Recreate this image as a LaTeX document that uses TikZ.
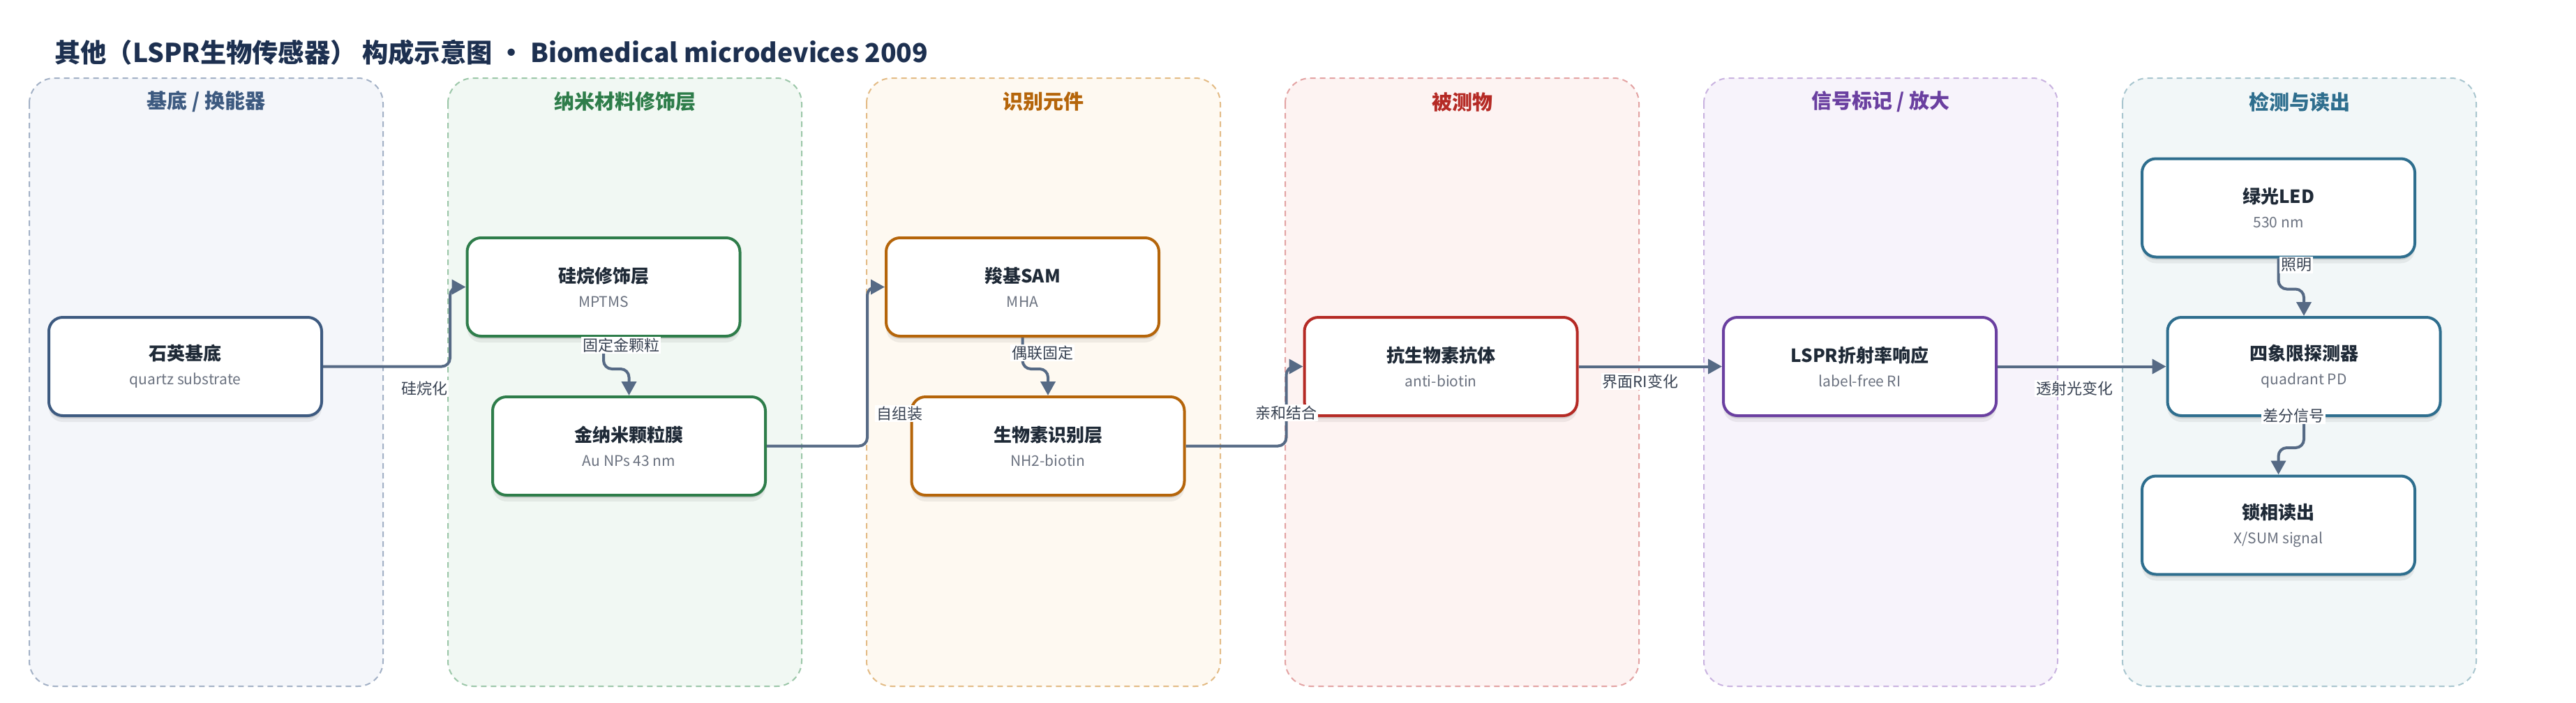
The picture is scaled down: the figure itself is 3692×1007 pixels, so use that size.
\documentclass[tikz,border=0pt]{standalone}
\usepackage{fontspec}
\setmainfont{Noto Sans CJK SC}
\usetikzlibrary{arrows.meta,shadows}
\definecolor{titlec}{HTML}{1D3050}
\definecolor{ntext}{HTML}{1F2A37}
\definecolor{stext}{HTML}{6B7280}
\definecolor{ltext}{HTML}{374151}
\definecolor{edgec}{HTML}{566A85}
\definecolor{cA}{HTML}{3D5A80}\definecolor{fA}{HTML}{F4F6FA}\definecolor{dA}{HTML}{A3B1C6}
\definecolor{cB}{HTML}{2E7D4A}\definecolor{fB}{HTML}{F1F8F3}\definecolor{dB}{HTML}{9CC7A9}
\definecolor{cC}{HTML}{B5650A}\definecolor{fC}{HTML}{FEF9F1}\definecolor{dC}{HTML}{E3BB85}
\definecolor{cD}{HTML}{B52A25}\definecolor{fD}{HTML}{FDF3F2}\definecolor{dD}{HTML}{E3A3A3}
\definecolor{cE}{HTML}{6A3FA0}\definecolor{fE}{HTML}{F7F3FB}\definecolor{dE}{HTML}{C9B3E0}
\definecolor{cF}{HTML}{2E6E8E}\definecolor{fF}{HTML}{F2F7F8}\definecolor{dF}{HTML}{A9C6CF}
\newcommand{\nt}[1]{{\bfseries\fontsize{26}{35}\selectfont\color{ntext}#1}}
\newcommand{\ns}[1]{{\fontsize{21}{35}\selectfont\color{stext}#1}}
\tikzset{
  lanebox/.style={draw=#1, dash pattern=on 8pt off 6pt, line width=2pt, rounded corners=36pt},
  lanehead/.style={font=\bfseries\fontsize{29}{34}\selectfont, text=#1},
  nodebox/.style={draw=#1, fill=white, line width=4pt, rounded corners=20pt,
    minimum width=391pt, minimum height=141pt, align=center, inner sep=0pt,
    font=\fontsize{21}{35}\selectfont,
    drop shadow={shadow xshift=0pt, shadow yshift=-4pt, opacity=0.10, fill=black},
    drop shadow={shadow xshift=0pt, shadow yshift=-9pt, opacity=0.06, fill=black}},
  edge/.style={draw=edgec, line width=4pt, rounded corners=12pt,
    -{Triangle[length=20pt,width=21pt]}},
  elabel/.style={fill=white, inner sep=2pt, text=ltext, font=\fontsize{22}{26}\selectfont}
}
\begin{document}
\begin{tikzpicture}[x=1pt,y=-1pt]
\useasboundingbox (0,0) rectangle (3692,1007);
\fill[white] (0,0) rectangle (3692,1007);
% title
\node[anchor=west, text=titlec, font=\bfseries\fontsize{37.3}{44}\selectfont, inner sep=0pt] (title) at (78,75)
  {其他（LSPR生物传感器） 构成示意图 · Biomedical microdevices 2009};
% lanes
\foreach \i/\c/\f/\d/\t in {0/cA/fA/dA/{基底 / 换能器},1/cB/fB/dB/纳米材料修饰层,2/cC/fC/dC/识别元件,3/cD/fD/dD/被测物,4/cE/fE/dE/{信号标记 / 放大},5/cF/fF/dF/检测与读出}{
  \path[lanebox=\d, fill=\f] ({42+600*\i},112) rectangle ({549+600*\i},984);
  \node[lanehead=\c] (lane\i) at ({295.5+600*\i},146) {\t};
}
% nodes
\node[nodebox=cA] (n1) at (265.5,525.5) {\nt{石英基底}\\\ns{quartz substrate}};
\node[nodebox=cB] (n2) at (865,411.5) {\nt{硅烷修饰层}\\\ns{MPTMS}};
\node[nodebox=cB] (n3) at (901.5,639.5) {\nt{金纳米颗粒膜}\\\ns{Au NPs 43 nm}};
\node[nodebox=cC] (n4) at (1465.5,411.5) {\nt{羧基SAM}\\\ns{MHA}};
\node[nodebox=cC] (n5) at (1502,639.5) {\nt{生物素识别层}\\\ns{NH2-biotin}};
\node[nodebox=cD] (n6) at (2065,525.5) {\nt{抗生物素抗体}\\\ns{anti-biotin}};
\node[nodebox=cE] (n7) at (2665.5,525.5) {\nt{LSPR折射率响应}\\\ns{label-free RI}};
\node[nodebox=cF] (n8) at (3265.5,298) {\nt{绿光LED}\\\ns{530 nm}};
\node[nodebox=cF] (n9) at (3302,525.5) {\nt{四象限探测器}\\\ns{quadrant PD}};
\node[nodebox=cF] (n10) at (3265.5,753) {\nt{锁相读出}\\\ns{X/SUM signal}};
% edges
\draw[edge] (n1.east) -- ++(182,0) |- (n2.west);
\draw[edge] (n2.south) -- ++(0,45) -| (n3.north);
\draw[edge] (n3.east) -- ++(144,0) |- (n4.west);
\draw[edge] (n4.south) -- ++(0,45) -| (n5.north);
\draw[edge] (n5.east) -- ++(144,0) |- (n6.west);
\draw[edge] (n6.east) -- (n7.west);
\draw[edge] (n7.east) -- (n9.west);
\draw[edge] (n8.south) -- ++(0,44) -| (n9.north);
\draw[edge] (n9.south) -- ++(0,44) -| (n10.north);
% edge labels
\node[elabel] (l1) at (608,557) {硅烷化};
\node[elabel] (l2) at (890,495) {固定金颗粒};
\node[elabel] (l3) at (1289,593) {自组装};
\node[elabel] (l4) at (1494,506) {偶联固定};
\node[elabel] (l5) at (1843,592) {亲和结合};
\node[elabel] (l6) at (2351,547) {界面RI变化};
\node[elabel] (l7) at (2973,557) {透射光变化};
\node[elabel] (l8) at (3291,380) {照明};
\node[elabel] (l9) at (3287,596) {差分信号};
\end{tikzpicture}
\end{document}
